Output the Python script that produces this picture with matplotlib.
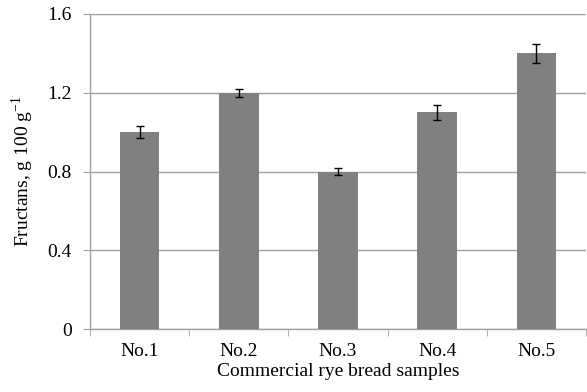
import matplotlib
matplotlib.use("Agg")
import matplotlib.pyplot as plt
import numpy as np

categories = ["No.1", "No.2", "No.3", "No.4", "No.5"]
values = [1.00, 1.20, 0.80, 1.10, 1.40]
errors = [0.03, 0.02, 0.02, 0.04, 0.05]
yticks = [0, 0.4, 0.8, 1.2, 1.6]
ytick_labels = ["0", "0.4", "0.8", "1.2", "1.6"]

plt.rcParams['font.family'] = ['Liberation Serif', 'DejaVu Serif']
plt.rcParams['mathtext.fontset'] = 'custom'
plt.rcParams['mathtext.rm'] = 'Liberation Serif'

fig = plt.figure(figsize=(5.87, 3.92), dpi=100)
ax = fig.add_axes([90/587, 63/392, 496/587, 315/392])

x = np.arange(len(categories))
ax.bar(x, values, width=0.4, color='#808080', zorder=3)
ax.errorbar(x, values, yerr=errors, fmt='none', ecolor='black', elinewidth=1,
            capsize=3, capthick=1, zorder=4)

ax.set_xlim(-0.5, len(categories) - 0.5)
ax.set_ylim(0, 1.6)
ax.set_yticks(yticks)
ax.set_yticklabels(ytick_labels)
ax.set_xticks(x)
ax.set_xticklabels(categories)
ax.set_xticks(np.arange(-0.5, len(categories)), minor=True)
ax.tick_params(axis='x', which='major', length=0, pad=10, labelsize=14)
ax.tick_params(axis='x', which='minor', length=5, color='#a0a0a0', direction='out')
ax.tick_params(axis='y', length=5, color='#a0a0a0', direction='out', labelsize=14, pad=8)

ax.yaxis.grid(True, color='#a0a0a0', linewidth=1, zorder=0)
for s in ['top', 'right']:
    ax.spines[s].set_visible(False)
for s in ['left', 'bottom']:
    ax.spines[s].set_color('#a0a0a0')
    ax.spines[s].set_linewidth(1)

ax.set_xlabel("Commercial rye bread samples", fontsize=14, labelpad=2)
ax.set_ylabel("Fructans, g 100 g$^{-1}$", fontsize=14, labelpad=8)

fig.savefig("out.png", dpi=100)
